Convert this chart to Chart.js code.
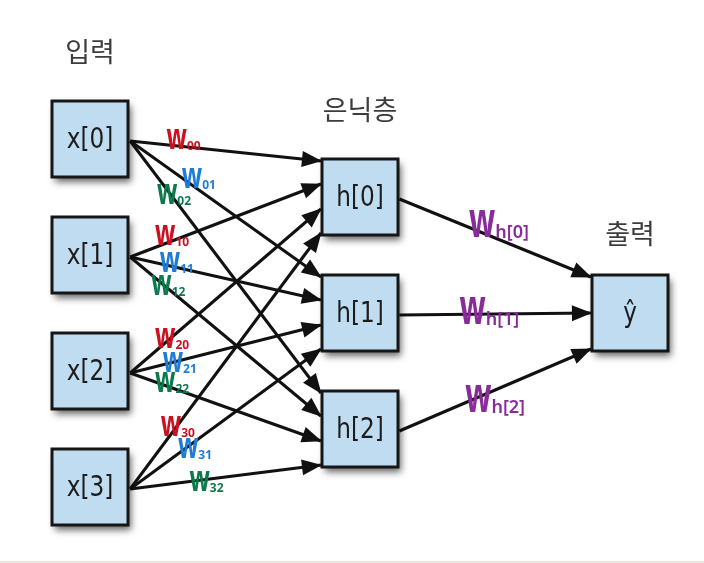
<!DOCTYPE html>
<html>
<head>
<meta charset="utf-8">
<script src="https://cdn.jsdelivr.net/npm/chart.js@4.4.1/dist/chart.umd.min.js"></script>
<style>
  html, body { margin: 0; padding: 0; background: #ffffff; }
  #wrap { width: 704px; height: 563px; }
</style>
</head>
<body>
<div id="wrap"><canvas id="net" width="704" height="563"></canvas></div>
<script>
// network structure
const layerTitles = ["입력", "은닉층", "출력"];
const inputNodes = ["x[0]", "x[1]", "x[2]", "x[3]"];
const hiddenNodes = ["h[0]", "h[1]", "h[2]"];
const outputNodes = ["ŷ"];
const inputWeightSubs = [
  ["00", "01", "02"],
  ["10", "11", "12"],
  ["20", "21", "22"],
  ["30", "31", "32"]
];
const hiddenWeightSubs = ["h[0]", "h[1]", "h[2]"];

// colours
const boxFill = "#bfdcf0";
const boxBorder = "#161616";
const edgeColor = "#111111";
const weightColors = ["#cc1020", "#1f7cd6", "#0d7a4e"]; // by hidden unit
const outWeightColor = "#8a2b9b";

// layout (px -> axis units)
const PX_LAYER = 270, PX_ROW = 116;
const halfBox = 38 / PX_LAYER;
const inEnd = [-36, -13, 12, 36].map(v => v / PX_ROW);
const outEnd = [-36, 0, 36].map(v => v / PX_ROW);
const titleLift = [87, 87, 79];
// where each handwritten weight sits along its arrow (fraction, px shift)
const inLabelT = [[0.28, 0.36, 0.23], [0.22, 0.245, 0.2], [0.22, 0.26, 0.22], [0.25, 0.34, 0.4]];
const inLabelDy = [[-7, -11, -4], [-5, -5, -3], [2, 2, -5], [2, 7, 2]];
const outLabelT = [0.52, 0.47, 0.5];
const outLabelDy = [-16, -4, 8];

const layers = [inputNodes, hiddenNodes, outputNodes];
const maxRows = Math.max(...layers.map(l => l.length));
const rowOf = (l, i) => i + (maxRows - layers[l].length) / 2;

const datasets = [];

layers.forEach((names, l) => {
  datasets.push({
    kind: "node",
    data: names.map((n, i) => ({ x: l, y: rowOf(l, i) })),
    nodeLabels: names,
    pointStyle: "rect",
    pointRadius: 38 / Math.SQRT1_2,
    pointHoverRadius: 38 / Math.SQRT1_2,
    backgroundColor: boxFill,
    borderColor: boxBorder,
    borderWidth: 3,
    showLine: false,
    clip: false,
    order: 0
  });
});

inputNodes.forEach((src, i) => {
  hiddenNodes.forEach((dst, j) => {
    datasets.push({
      kind: "edge",
      data: [
        { x: halfBox + 0.008, y: rowOf(0, i) + 2 / PX_ROW },
        { x: 1 - halfBox - 0.004, y: rowOf(1, j) + inEnd[i] }
      ],
      wLabel: { sub: inputWeightSubs[i][j], color: weightColors[j], t: inLabelT[i][j], dy: inLabelDy[i][j], big: false },
      showLine: true,
      borderColor: edgeColor,
      borderWidth: 3,
      pointRadius: 0,
      order: 1
    });
  });
});

hiddenNodes.forEach((src, j) => {
  datasets.push({
    kind: "edge",
    data: [
      { x: 1 + halfBox + 0.005, y: rowOf(1, j) + 2 / PX_ROW },
      { x: 2 - halfBox - 0.004, y: rowOf(2, 0) + outEnd[j] }
    ],
    wLabel: { sub: hiddenWeightSubs[j], color: outWeightColor, t: outLabelT[j], dy: outLabelDy[j], big: true },
    showLine: true,
    borderColor: edgeColor,
    borderWidth: 3,
    pointRadius: 0,
    order: 1
  });
});

const nodeFont = '"DejaVu Sans", sans-serif';
const handFont = '"Noto Sans", "DejaVu Sans", sans-serif';

const networkPlugin = {
  id: "network",
  beforeDatasetDraw(chart, args) {
    const ds = chart.data.datasets[args.index];
    if (ds.kind !== "node") return;
    const ctx = chart.ctx;
    ctx.save();
    ctx.shadowColor = "rgba(0,0,0,0.6)";
    ctx.shadowBlur = 7;
    ctx.shadowOffsetX = 3;
    ctx.shadowOffsetY = 5;
    ctx.fillStyle = boxBorder;
    args.meta.data.forEach(p => ctx.fillRect(p.x - 38, p.y - 38, 76, 76));
    ctx.restore();
  },
  afterDatasetDraw(chart, args) {
    const ds = chart.data.datasets[args.index];
    const ctx = chart.ctx;
    if (ds.kind === "edge") {
      const a = args.meta.data[0], b = args.meta.data[1];
      const ang = Math.atan2(b.y - a.y, b.x - a.x);
      const len = 19, hw = 8;
      ctx.save();
      ctx.translate(b.x, b.y);
      ctx.rotate(ang);
      ctx.fillStyle = edgeColor;
      ctx.beginPath();
      ctx.moveTo(1, 0);
      ctx.lineTo(-len, -hw);
      ctx.lineTo(-len, hw);
      ctx.closePath();
      ctx.fill();
      ctx.restore();
    } else if (ds.kind === "node") {
      ctx.save();
      ctx.fillStyle = "#1c1c1c";
      ctx.textAlign = "center";
      ctx.textBaseline = "middle";
      ctx.font = "29px " + nodeFont;
      args.meta.data.forEach((p, i) => {
        ctx.save();
        ctx.translate(p.x, p.y + 1);
        ctx.scale(0.8, 1);
        ctx.fillText(ds.nodeLabels[i], 0, 0);
        ctx.restore();
      });
      ctx.restore();
    }
  },
  afterDraw(chart) {
    const ctx = chart.ctx;
    ctx.save();
    // layer titles
    ctx.fillStyle = "#3c3c3c";
    ctx.font = '27px "Noto Sans CJK KR", sans-serif';
    ctx.textAlign = "center";
    ctx.textBaseline = "middle";
    chart.data.datasets.forEach((ds, k) => {
      if (ds.kind !== "node") return;
      const top = chart.getDatasetMeta(k).data[0];
      const l = Math.round(ds.data[0].x);
      ctx.fillText(layerTitles[l], top.x, top.y - titleLift[l]);
    });
    // handwritten weights
    ctx.textAlign = "left";
    ctx.textBaseline = "alphabetic";
    chart.data.datasets.forEach((ds, k) => {
      if (ds.kind !== "edge") return;
      const m = chart.getDatasetMeta(k).data;
      const L = ds.wLabel;
      const ax = m[0].x + (m[1].x - m[0].x) * L.t;
      const ay = m[0].y + (m[1].y - m[0].y) * L.t + L.dy;
      const wSize = L.big ? 36 : 28;
      const sx = 0.85, sy = L.big ? 1.4 : 1.25;
      const sSize = L.big ? 18 : 12;
      const sWeight = L.big ? "600 " : "bold ";
      ctx.font = "bold " + wSize + "px " + handFont;
      const wW = ctx.measureText("w").width * sx;
      ctx.font = sWeight + sSize + "px " + handFont;
      const sW = ctx.measureText(L.sub).width;
      const x0 = ax - (wW + sW) / 2;
      const base = ay + wSize * 0.27 * sy;
      ctx.fillStyle = L.color;
      ctx.save();
      ctx.translate(x0, base);
      ctx.scale(sx, sy);
      ctx.font = "bold " + wSize + "px " + handFont;
      ctx.fillText("w", 0, 0);
      ctx.restore();
      ctx.font = sWeight + sSize + "px " + handFont;
      ctx.fillText(L.sub, x0 + wW, base + 1);
    });
    // faint scan edge at the bottom
    ctx.fillStyle = "#ece8e1";
    ctx.fillRect(0, 561, chart.width, 2);
    ctx.restore();
  }
};

new Chart(document.getElementById("net"), {
  type: "scatter",
  data: { datasets },
  options: {
    responsive: false,
    animation: false,
    events: [],
    layout: { padding: 0, autoPadding: false },
    plugins: {
      legend: { display: false },
      tooltip: { enabled: false }
    },
    scales: {
      x: { type: "linear", display: false, min: -90 / PX_LAYER, max: (704 - 90) / PX_LAYER },
      y: { type: "linear", display: false, reverse: true, min: -139 / PX_ROW, max: (563 - 139) / PX_ROW }
    }
  },
  plugins: [networkPlugin]
});
</script>
</body>
</html>
